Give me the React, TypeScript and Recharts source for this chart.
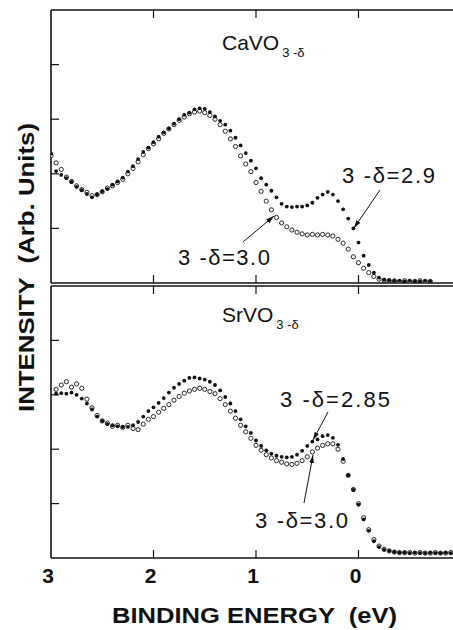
import { ScatterChart, Scatter, XAxis, YAxis } from "recharts";

const FONT = '"Liberation Sans", Arial, Helvetica, sans-serif';
const INK = "#111";

// CaVO3-d panel: binding energy (eV) and intensity (arb.)
const caEnergy = [
  3.0, 2.95, 2.9, 2.85, 2.8, 2.75, 2.7, 2.65, 2.6, 2.55, 2.5, 2.45, 2.4, 2.35, 2.3,
  2.25, 2.2, 2.15, 2.1, 2.05, 2.0, 1.95, 1.9, 1.85, 1.8, 1.75, 1.7, 1.65, 1.6, 1.55,
  1.5, 1.45, 1.4, 1.35, 1.3, 1.25, 1.2, 1.15, 1.1, 1.05, 1.0, 0.95, 0.9, 0.85, 0.8,
  0.75, 0.7, 0.65, 0.6, 0.55, 0.5, 0.45, 0.4, 0.35, 0.3, 0.25, 0.2, 0.15, 0.1, 0.05,
  0.0, -0.05, -0.1, -0.15, -0.2, -0.25, -0.3, -0.35, -0.4, -0.45, -0.5, -0.55, -0.6,
  -0.65, -0.7,
];
const caDelta29 = [
  2.37, 2.05, 1.98, 1.92, 1.85, 1.76, 1.7, 1.63, 1.57, 1.62, 1.68, 1.72, 1.8, 1.86, 1.93,
  2.04, 2.14, 2.27, 2.4, 2.48, 2.58, 2.68, 2.76, 2.83, 2.92, 3.0, 3.08, 3.12, 3.18, 3.2,
  3.19, 3.13, 3.05, 2.97, 2.9, 2.79, 2.66, 2.52, 2.38, 2.24, 2.1, 1.92, 1.8, 1.69, 1.57,
  1.45, 1.4, 1.39, 1.4, 1.4, 1.42, 1.47, 1.56, 1.62, 1.67, 1.62, 1.5, 1.35, 1.18, 1.0,
  0.74, 0.5, 0.33, 0.19, 0.1, 0.06, 0.05, 0.04, 0.04, 0.03, 0.04, 0.03, 0.03, 0.04, 0.03,
];
const caDelta30 = [
  2.33, 2.2, 2.08, 1.94, 1.86, 1.78, 1.71, 1.66, 1.6, 1.62, 1.67, 1.74, 1.78, 1.84, 1.9,
  2.0, 2.1, 2.22, 2.35, 2.46, 2.55, 2.64, 2.74, 2.82, 2.9, 2.98, 3.04, 3.1, 3.13, 3.15,
  3.12, 3.07, 3.0, 2.9, 2.78, 2.64, 2.5, 2.33, 2.18, 2.04, 1.84, 1.68, 1.5, 1.34, 1.2,
  1.1, 1.03, 0.97, 0.93, 0.9, 0.88, 0.89, 0.88, 0.89, 0.88, 0.86, 0.8, 0.73, 0.62, 0.48,
  0.37, 0.27, 0.19, 0.12, 0.07, 0.05, 0.04, 0.04, 0.03, 0.04, 0.03, 0.03, 0.04, 0.03, 0.03,
];

// SrVO3-d panel
const srEnergy = [
  2.95, 2.9, 2.85, 2.8, 2.75, 2.7, 2.65, 2.6, 2.55, 2.5, 2.45, 2.4, 2.35, 2.3, 2.25,
  2.2, 2.15, 2.1, 2.05, 2.0, 1.95, 1.9, 1.85, 1.8, 1.75, 1.7, 1.65, 1.6, 1.55, 1.5,
  1.45, 1.4, 1.35, 1.3, 1.25, 1.2, 1.15, 1.1, 1.05, 1.0, 0.95, 0.9, 0.85, 0.8, 0.75,
  0.7, 0.65, 0.6, 0.55, 0.5, 0.45, 0.4, 0.35, 0.3, 0.25, 0.2, 0.15, 0.1, 0.05, 0.0,
  -0.05, -0.1, -0.15, -0.2, -0.25, -0.3, -0.35, -0.4, -0.45, -0.5, -0.55, -0.6, -0.65,
  -0.7, -0.75, -0.8, -0.85, -0.9,
];
const srDelta285 = [
  3.02, 3.03, 3.02, 3.04, 3.0, 2.93, 2.84, 2.73, 2.6, 2.52, 2.46, 2.44, 2.42, 2.41, 2.41,
  2.44, 2.5, 2.6, 2.7, 2.77, 2.85, 2.94, 3.04, 3.13, 3.2, 3.26, 3.31, 3.32, 3.3, 3.28,
  3.24, 3.18, 3.08, 2.96, 2.84, 2.7, 2.55, 2.42, 2.3, 2.16, 2.06, 1.98, 1.92, 1.88, 1.86,
  1.85, 1.86, 1.9, 1.97, 2.06, 2.14, 2.18, 2.24, 2.26, 2.21, 2.08, 1.82, 1.52, 1.25, 0.98,
  0.71, 0.5, 0.31, 0.2, 0.15, 0.13, 0.11, 0.1, 0.1, 0.09, 0.1, 0.09, 0.09, 0.1, 0.09,
  0.09, 0.1, 0.09,
];
const srDelta30 = [
  3.1, 3.18, 3.24, 3.14, 3.2, 3.12, 2.92, 2.76, 2.62, 2.52, 2.48, 2.42, 2.44, 2.4, 2.44,
  2.38, 2.36, 2.46, 2.55, 2.6, 2.68, 2.75, 2.82, 2.9, 2.97, 3.03, 3.07, 3.1, 3.12, 3.1,
  3.06, 3.02, 2.93, 2.82, 2.7, 2.57, 2.44, 2.32, 2.2, 2.07, 1.98, 1.9, 1.84, 1.79, 1.76,
  1.73, 1.72, 1.74, 1.79, 1.86, 1.95, 2.02, 2.07, 2.1, 2.1, 2.0, 1.78, 1.52, 1.26, 1.0,
  0.74, 0.52, 0.34, 0.22, 0.16, 0.13, 0.11, 0.1, 0.1, 0.1, 0.09, 0.1, 0.09, 0.09, 0.1,
  0.09, 0.09, 0.1,
];

const xTicks = [3, 2, 1, 0, -1];
const yTicks = [1, 2, 3, 4];

const zip = (e: number[], v: number[]) => e.map((x, i) => ({ e: x, v: v[i] }));

const TICK = 8;
const axisStyle = { stroke: INK, strokeWidth: 1.6 };

const Dot = (p: any) => <circle cx={p.cx} cy={p.cy} r={1.9} fill={INK} />;
const Ring = (p: any) => (
  <circle cx={p.cx} cy={p.cy} r={2.1} fill="#fff" stroke={INK} strokeWidth={0.9} />
);

const inner = (v: number) => v < 3 && v > -1;

function BottomTick(p: any) {
  const v = p.payload.value;
  return (
    <g>
      {inner(v) && <line x1={p.x} y1={p.y} x2={p.x} y2={p.y - TICK} stroke={INK} strokeWidth={1.2} />}
      {p.showLabel && v > -1 && (
        <text x={p.x - 3} y={p.y + 25} textAnchor="middle" fontSize={21} fontWeight="bold" fill={INK} fontFamily={FONT}>
          {v}
        </text>
      )}
    </g>
  );
}

const TopTick = (p: any) =>
  inner(p.payload.value) ? (
    <line x1={p.x} y1={p.y} x2={p.x} y2={p.y + TICK} stroke={INK} strokeWidth={1.2} />
  ) : (
    <g />
  );

const LeftTick = (p: any) => <line x1={p.x} y1={p.y} x2={p.x + TICK} y2={p.y} stroke={INK} strokeWidth={1.2} />;
const RightTick = (p: any) => <line x1={p.x} y1={p.y} x2={p.x - TICK} y2={p.y} stroke={INK} strokeWidth={1.2} />;

function Panel({
  top,
  plotH,
  open,
  filled,
  labels,
}: {
  top: number;
  plotH: number;
  open: { e: number; v: number }[];
  filled: { e: number; v: number }[];
  labels: boolean;
}) {
  const bottomH = labels ? 40 : 1;
  const xCommon = {
    type: "number" as const,
    dataKey: "e",
    domain: [-1, 3],
    reversed: true,
    ticks: xTicks,
    interval: 0 as const,
    allowDataOverflow: true,
    tickSize: 0,
    tickMargin: 0,
    tickLine: false,
    axisLine: axisStyle,
  };
  const yCommon = {
    type: "number" as const,
    dataKey: "v",
    domain: [0, 5],
    ticks: yTicks,
    interval: 0 as const,
    allowDataOverflow: true,
    tickSize: 0,
    tickMargin: 0,
    tickLine: false,
    axisLine: axisStyle,
  };
  return (
    <div style={{ position: "absolute", left: 0, top }}>
      <ScatterChart width={471} height={10 + plotH + bottomH} margin={{ top: 0, right: 0, bottom: 0, left: 0 }}>
        <XAxis {...xCommon} xAxisId="b" orientation="bottom" height={bottomH} tick={(p: any) => <BottomTick {...p} showLabel={labels} />} />
        <XAxis {...xCommon} xAxisId="t" orientation="top" height={10} tick={TopTick} />
        <YAxis {...yCommon} yAxisId="l" orientation="left" width={51} tick={LeftTick} />
        <YAxis {...yCommon} yAxisId="r" orientation="right" width={10} tick={RightTick} />
        <Scatter data={open} xAxisId="b" yAxisId="l" shape={Ring} isAnimationActive={false} />
        <Scatter data={filled} xAxisId="t" yAxisId="r" shape={Dot} isAnimationActive={false} />
      </ScatterChart>
    </div>
  );
}

function Note({ x, y, w, text }: { x: number; y: number; w: number; text: string }) {
  return (
    <text x={x} y={y} fontSize={22} fill={INK} textLength={w} lengthAdjust="spacing" style={{ whiteSpace: "pre" }}>
      {text}
    </text>
  );
}

function Arrow({ x1, y1, x2, y2 }: { x1: number; y1: number; x2: number; y2: number }) {
  return <line x1={x1} y1={y1} x2={x2} y2={y2} stroke={INK} strokeWidth={1} markerEnd="url(#head)" />;
}

export default function App() {
  return (
    <div
      style={{
        position: "absolute",
        left: 0,
        top: 0,
        width: 453,
        height: 630,
        overflow: "hidden",
        background: "#fff",
        fontFamily: FONT,
      }}
    >
      <Panel top={0} plotH={273} open={zip(caEnergy, caDelta30)} filled={zip(caEnergy, caDelta29)} labels={false} />
      <Panel top={276} plotH={272} open={zip(srEnergy, srDelta30)} filled={zip(srEnergy, srDelta285)} labels />

      <svg width={453} height={630} style={{ position: "absolute", left: 0, top: 0, pointerEvents: "none", fontFamily: FONT }}>
        <defs>
          <marker id="head" viewBox="0 0 10 10" refX="10" refY="5" markerWidth="8" markerHeight="8" orient="auto">
            <path d="M0,2 L10,5 L0,8 z" fill={INK} />
          </marker>
        </defs>

        <text x={222} y={50} fontSize={21} fill={INK}>
          CaVO
          <tspan fontSize={13} dx={3} dy={7} style={{ whiteSpace: "pre" }}>
            {"3 -δ"}
          </tspan>
        </text>
        <text x={222} y={322} fontSize={21} fill={INK}>
          SrVO
          <tspan fontSize={13} dx={3} dy={7} style={{ whiteSpace: "pre" }}>
            {"3 -δ"}
          </tspan>
        </text>

        <Note x={342} y={183} w={93} text="3 -δ=2.9" />
        <Arrow x1={380} y1={190} x2={354} y2={228} />
        <Note x={178} y={265} w={92} text="3 -δ=3.0" />
        <Arrow x1={243} y1={242} x2={274} y2={216} />

        <Note x={280} y={407} w={110} text="3 -δ=2.85" />
        <Arrow x1={328} y1={412} x2={313} y2={440} />
        <Note x={255} y={528} w={93} text="3 -δ=3.0" />
        <Arrow x1={304} y1={503} x2={313} y2={455} />

        <text
          x={112}
          y={623}
          fontSize={22}
          fontWeight="bold"
          fill={INK}
          textLength={285}
          lengthAdjust="spacingAndGlyphs"
          style={{ whiteSpace: "pre" }}
        >
          {"BINDING ENERGY  (eV)"}
        </text>
        <text
          transform="translate(34 412) rotate(-90)"
          x={0}
          y={0}
          fontSize={22}
          fontWeight="bold"
          fill={INK}
          textLength={289}
          lengthAdjust="spacingAndGlyphs"
          style={{ whiteSpace: "pre" }}
        >
          {"INTENSITY  (Arb. Units)"}
        </text>
      </svg>
    </div>
  );
}
